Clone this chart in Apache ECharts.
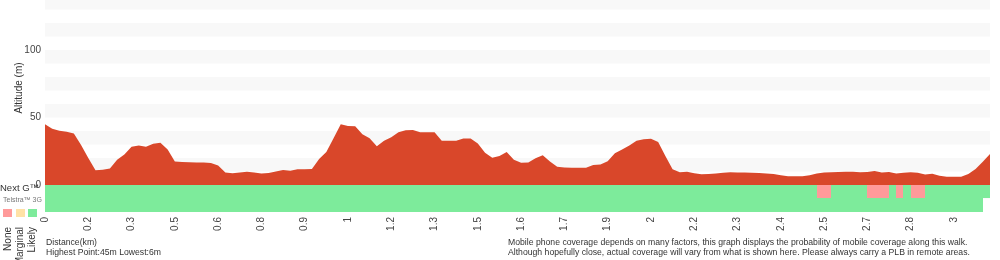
<!DOCTYPE html>
<html lang="en">
<head>
    <meta charset="UTF-8">
    <title>Altitude</title>
    <script src="https://cdn.jsdelivr.net/npm/echarts@6/dist/echarts.min.js"></script>
    <style type="text/css">
        html, body { margin: 0; padding: 0; background: #fff; }
        #chart { width: 1000px; height: 260px; }
    </style>
</head>
<body>
<div id="chart"></div>
<script type="text/javascript">
// altitude (m) at each track point
var altitude = [
    45, 41.7, 40.1, 39.5, 38.1, 29.7, 20.0, 11.0, 11.2, 12.3,
    18.7, 22.5, 28.3, 29.3, 28.4, 30.6, 31.3, 26.3, 17.4, 17.1,
    16.8, 16.7, 16.6, 16.3, 14.4, 9.2, 8.7, 9.3, 9.8, 9.3,
    8.6, 8.9, 10.0, 11.1, 10.6, 11.6, 11.6, 11.9, 19.2, 24.5,
    34.6, 45.0, 43.7, 43.5, 37.6, 34.7, 28.7, 32.8, 35.3, 39.1,
    40.5, 40.7, 39, 39, 39, 32.8, 32.8, 32.8, 34.4, 34.4,
    30.7, 23.9, 20.1, 21.4, 24.5, 18.7, 16.4, 16.7, 19.8, 22.0,
    17.4, 13.5, 13.0, 12.8, 12.8, 12.8, 14.8, 15.2, 17.6, 23.5,
    26.3, 29.3, 32.8, 33.8, 34.2, 31.9, 21.4, 11.6, 9.4, 9.8,
    8.7, 7.9, 8.2, 8.6, 9.0, 9.4, 9.3, 9.2, 9.1, 8.8,
    8.5, 8.2, 7.2, 6.5, 6.5, 6.4, 7.2, 8.6, 9.3, 9.5,
    9.7, 9.9, 9.9, 9.4, 9.6, 10.4, 9.2, 9.7, 8.6, 9.0,
    9.4, 9.1, 7.7, 8.3, 6.8, 6.1, 6.1, 6.1, 8.2, 11.9,
    17.3, 22.9
];
// distance labels shown under every 6th point
var tickLabels = ['0', '0.2', '0.3', '0.5', '0.6', '0.8', '0.9', '1', '1.2', '1.3', '1.5',
    '1.6', '1.7', '1.9', '2', '2.2', '2.3', '2.4', '2.5', '2.7', '2.8', '3'];
var tickEvery = 6;
// coverage runs: [from segment, to segment, N/M/L]
var nextGRuns = [[0, 107, 'L'], [107, 109, 'N'], [109, 114, 'L'], [114, 117, 'N'], [117, 118, 'L'],
    [118, 119, 'N'], [119, 120, 'L'], [120, 122, 'N'], [122, 131, 'L']];
var threeGRuns = [[0, 130, 'L']];
var coverageColors = {N: '#ff9a9a', M: '#ffe2a6', L: '#7deb9b'};

var note1 = 'Mobile phone coverage depends on many factors, this graph displays the probability of mobile coverage along this walk.';
var note2 = 'Although hopefully close, actual coverage will vary from what is shown here. Please always carry a PLB in remote areas.';

var categories = altitude.map(function (v, i) {
    return i % tickEvery === 0 ? tickLabels[i / tickEvery] : '';
});
var coverageData = [];
nextGRuns.forEach(function (r) {
    coverageData.push({value: [r[0], r[1], 0, -10], itemStyle: {color: coverageColors[r[2]]}});
});
threeGRuns.forEach(function (r) {
    coverageData.push({value: [r[0], r[1], -10, -20], itemStyle: {color: coverageColors[r[2]]}});
});

var txt = '#444';
var font = 'Liberation Sans, Arial, sans-serif';
// the footnote font is narrow: size it so the first note is ~460px wide
var ctx = document.createElement('canvas').getContext('2d');
ctx.font = '10px ' + font;
var noteSize = (10 * 460 / ctx.measureText(note1).width).toFixed(2);
var noteFont = noteSize + 'px ' + font;

var chart = echarts.init(document.getElementById('chart'));
var option = {
    animation: false,
    textStyle: {fontFamily: font},
    grid: {left: 45, right: 10, top: 0, bottom: 48},
    xAxis: [
        {
            type: 'category',
            data: categories,
            boundaryGap: false,
            axisLine: {show: false},
            axisTick: {show: false},
            axisLabel: {rotate: 90, interval: tickEvery - 1, fontSize: 10, color: txt, margin: 5, fontFamily: font}
        },
        {
            type: 'value',
            min: 0,
            max: altitude.length - 1,
            show: false
        }
    ],
    yAxis: {
        type: 'value',
        min: -20,
        max: 137,
        interval: 10,
        axisLine: {show: false},
        axisTick: {show: false},
        splitLine: {show: false},
        splitArea: {show: true, areaStyle: {color: ['#ffffff', '#f8f8f8']}},
        axisLabel: {
            fontSize: 10, color: txt, margin: 4, fontFamily: font,
            formatter: function (v) { return (v === 0 || v === 50 || v === 100) ? v : ''; }
        }
    },
    series: [
        {
            name: 'Altitude',
            type: 'line',
            data: altitude,
            showSymbol: false,
            lineStyle: {width: 0},
            areaStyle: {color: '#d9472a', opacity: 1}
        },
        {
            name: 'Coverage',
            type: 'custom',
            xAxisIndex: 1,
            yAxisIndex: 0,
            data: coverageData,
            renderItem: function (params, api) {
                var p0 = api.coord([api.value(0), api.value(2)]);
                var p1 = api.coord([api.value(1), api.value(3)]);
                var x0 = Math.round(p0[0]), x1 = Math.round(p1[0]);
                var y0 = Math.round(p0[1]), y1 = Math.round(p1[1]);
                return {
                    type: 'rect',
                    shape: {x: x0, y: y0, width: x1 - x0, height: y1 - y0},
                    style: {fill: api.visual('color')}
                };
            }
        }
    ],
    graphic: [
        {type: 'text', x: 0, y: 188, style: {text: 'Next G™', fill: '#333', font: '9.5px ' + font, verticalAlign: 'middle'}},
        {type: 'text', x: 3, y: 200, style: {text: 'Telstra™ 3G', fill: '#777', font: '7px ' + font, verticalAlign: 'middle'}},
        {type: 'rect', shape: {x: 3, y: 209, width: 9, height: 8}, style: {fill: coverageColors.N}},
        {type: 'rect', shape: {x: 16, y: 209, width: 9, height: 8}, style: {fill: coverageColors.M}},
        {type: 'rect', shape: {x: 28, y: 209, width: 9, height: 8}, style: {fill: coverageColors.L}},
        {type: 'text', x: 8, y: 227, rotation: Math.PI / 2,
            style: {text: 'None', font: '10px ' + font, fill: '#333', align: 'right', verticalAlign: 'middle'}},
        {type: 'text', x: 20, y: 227, rotation: Math.PI / 2,
            style: {text: 'Marginal', font: '10px ' + font, fill: '#333', align: 'right', verticalAlign: 'middle'}},
        {type: 'text', x: 32, y: 227, rotation: Math.PI / 2,
            style: {text: 'Likely', font: '10px ' + font, fill: '#333', align: 'right', verticalAlign: 'middle'}},
        {type: 'text', x: 19, y: 88, rotation: Math.PI / 2,
            style: {text: 'Altitude (m)', font: '10px ' + font, fill: '#333', align: 'center', verticalAlign: 'middle'}},
        {type: 'text', x: 46, y: 243, style: {text: 'Distance(km)', font: noteFont, fill: '#333', verticalAlign: 'middle'}},
        {type: 'text', x: 46, y: 253, style: {text: 'Highest Point:45m Lowest:6m', font: noteFont, fill: '#333', verticalAlign: 'middle'}},
        {type: 'text', x: 508, y: 243, style: {text: note1, font: noteFont, fill: '#333', verticalAlign: 'middle'}},
        {type: 'text', x: 508, y: 253, style: {text: note2, font: noteFont, fill: '#333', verticalAlign: 'middle'}}
    ]
};
chart.setOption(option);
</script>
</body>
</html>
